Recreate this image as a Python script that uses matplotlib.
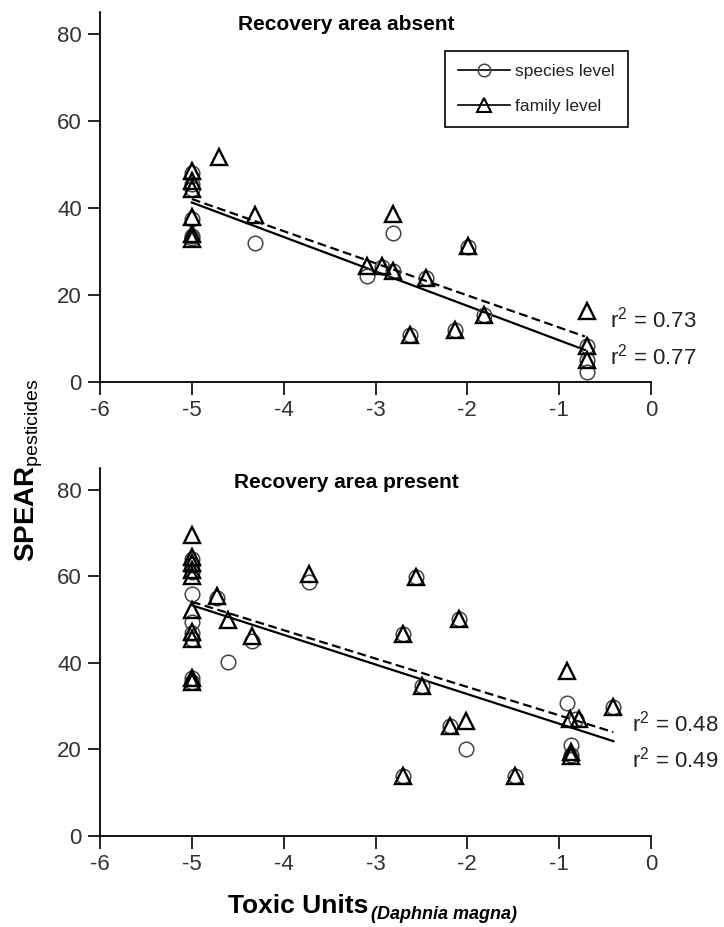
import matplotlib
matplotlib.use('Agg')
import matplotlib.pyplot as plt
from matplotlib.lines import Line2D

plt.rcParams['font.family'] = ['Liberation Sans', 'DejaVu Sans']
plt.rcParams['axes.unicode_minus'] = False
plt.rcParams['mathtext.fontset'] = 'custom'
plt.rcParams['mathtext.rm'] = 'Liberation Sans'
plt.rcParams['mathtext.bf'] = 'Liberation Sans:bold'

# recovery area absent
fam_x_abs = [-5, -5, -5, -5, -5, -5, -4.70, -4.31, -3.09, -2.93, -2.81, -2.81, -2.62,
             -2.45, -2.13, -1.99, -1.82, -0.70, -0.70, -0.70]
fam_y_abs = [48.5, 46.2, 44.3, 37.8, 33.9, 32.7, 51.6, 38.3, 26.6, 26.6, 25.4, 38.5, 10.8,
             23.9, 11.9, 31.2, 15.4, 16.2, 8.1, 5.0]
spe_x_abs = [-5, -5, -5, -5, -5, -5, -4.31, -3.09, -2.93, -2.81, -2.81, -2.62, -2.45,
             -2.13, -1.99, -1.82, -0.70, -0.70, -0.70]
spe_y_abs = [48.0, 45.5, 44.3, 37.5, 33.5, 33.0, 32.0, 24.2, 26.4, 25.4, 34.3, 10.8, 23.9,
             11.9, 31.0, 15.4, 8.1, 5.0, 2.3]
fit_x_abs = [-5, -0.72]
fit_fam_abs = [42.0, 10.4]
fit_spe_abs = [41.2, 7.3]
r2_abs = ['0.73', '0.77']

# recovery area present
fam_x_pre = [-5, -5, -5, -5, -5, -5, -5, -5, -5, -5,
             -4.73, -4.61, -4.35, -3.72, -2.70, -2.70, -2.56, -2.49, -2.19, -2.09,
             -2.01, -1.48, -0.92, -0.88, -0.87, -0.87, -0.78, -0.41]
fam_y_pre = [69.5, 64.5, 63.0, 61.4, 60.1, 52.1, 47.2, 45.5, 36.6, 35.5,
             55.5, 49.8, 46.3, 60.6, 46.7, 13.8, 59.9, 34.7, 25.4, 50.2,
             26.6, 13.8, 38.2, 27.0, 19.5, 18.4, 27.0, 29.7]
spe_x_pre = [-5, -5, -5, -5, -5, -5, -5, -5, -5,
             -4.73, -4.61, -4.35, -3.72, -2.70, -2.70, -2.56, -2.49, -2.19, -2.09,
             -2.01, -1.48, -0.92, -0.87, -0.87, -0.82, -0.41]
spe_y_pre = [64.0, 62.5, 61.0, 55.8, 49.5, 47.0, 45.5, 36.6, 35.5,
             55.0, 40.1, 45.1, 58.7, 46.7, 13.8, 59.9, 34.7, 25.4, 50.2,
             20.0, 13.8, 30.8, 21.1, 18.6, 27.0, 29.7]
fit_x_pre = [-5, -0.41]
fit_fam_pre = [54.1, 24.0]
fit_spe_pre = [53.3, 21.9]
r2_pre = ['0.48', '0.49']

fig = plt.figure(figsize=(7.24, 9.27), dpi=100)
W, H = 724, 927
ax1 = fig.add_axes([100 / W, 1 - 381.7 / H, 551 / W, (381.7 - 12) / H])
ax2 = fig.add_axes([100 / W, 1 - 836 / H, 551 / W, (836 - 468) / H])


def draw(ax, sx, sy, fx, fy, fit_x, fit_f, fit_s):
    ax.plot(fit_x, fit_f, color='k', lw=1.6, ls=(0, (4, 2)))
    ax.plot(fit_x, fit_s, color='k', lw=1.6)
    ax.plot(sx, sy, ls='none', marker='o', ms=10.5, mfc='none', mec='#444', mew=1.1)
    ax.plot(fx, fy, ls='none', marker='^', ms=11.5, mfc='none', mec='k', mew=1.7)
    ax.set_xlim(-6, 0)
    ax.set_ylim(0, 85)
    ax.set_xticks([-6, -5, -4, -3, -2, -1, 0])
    ax.set_yticks([0, 20, 40, 60, 80])
    for s in ['top', 'right']:
        ax.spines[s].set_visible(False)
    for s in ['left', 'bottom']:
        ax.spines[s].set_linewidth(1.3)
    ax.tick_params(direction='out', length=9, width=1.2, labelsize=16, pad=4,
                   labelcolor='#333')


draw(ax1, spe_x_abs, spe_y_abs, fam_x_abs, fam_y_abs, fit_x_abs, fit_fam_abs, fit_spe_abs)
draw(ax2, spe_x_pre, spe_y_pre, fam_x_pre, fam_y_pre, fit_x_pre, fit_fam_pre, fit_spe_pre)

ax1.text(-0.45, 12.4, r'r$^2$ = ' + r2_abs[0], fontsize=16, va='baseline', color='#222')
ax1.text(-0.45, 3.85, r'r$^2$ = ' + r2_abs[1], fontsize=16, va='baseline', color='#222')
ax2.text(-0.21, 24.2, r'r$^2$ = ' + r2_pre[0], fontsize=16, va='baseline', color='#222')
ax2.text(-0.21, 15.8, r'r$^2$ = ' + r2_pre[1], fontsize=16, va='baseline', color='#222')

fig.text(346 / W, 1 - 30 / H, 'Recovery area absent', fontsize=15, weight='bold',
         ha='center', va='baseline')
fig.text(346 / W, 1 - 488 / H, 'Recovery area present', fontsize=15, weight='bold',
         ha='center', va='baseline')

handles = [Line2D([], [], color='k', lw=1.2, marker='o', ms=9, mfc='none', mec='#444', mew=1.1),
           Line2D([], [], color='k', lw=1.2, marker='^', ms=10, mfc='none', mec='k', mew=1.5)]
leg = ax1.legend(handles, ['species level', 'family level'], loc='upper left',
                 bbox_to_anchor=(0.626, 0.895), borderaxespad=0, fontsize=12.5,
                 handlelength=3.0, fancybox=False, edgecolor='k', framealpha=1,
                 borderpad=0.75, labelspacing=1.15, handletextpad=0.3)
for t in leg.get_texts():
    t.set_color('#222')
leg.get_frame().set_linewidth(1.2)

fig.text(29 / W, 1 - 470 / H, r'$\mathbf{SPEAR}_{\mathrm{pesticides}}$', fontsize=20,
         rotation=90, ha='center', va='center')
fig.text(228 / W, 1 - 913 / H, 'Toxic Units', fontsize=19, weight='bold',
         ha='left', va='baseline')
fig.text(371 / W, 1 - 919 / H, '(Daphnia magna)', fontsize=13, weight='bold',
         style='italic', ha='left', va='baseline')

fig.savefig('out.png', dpi=100)
